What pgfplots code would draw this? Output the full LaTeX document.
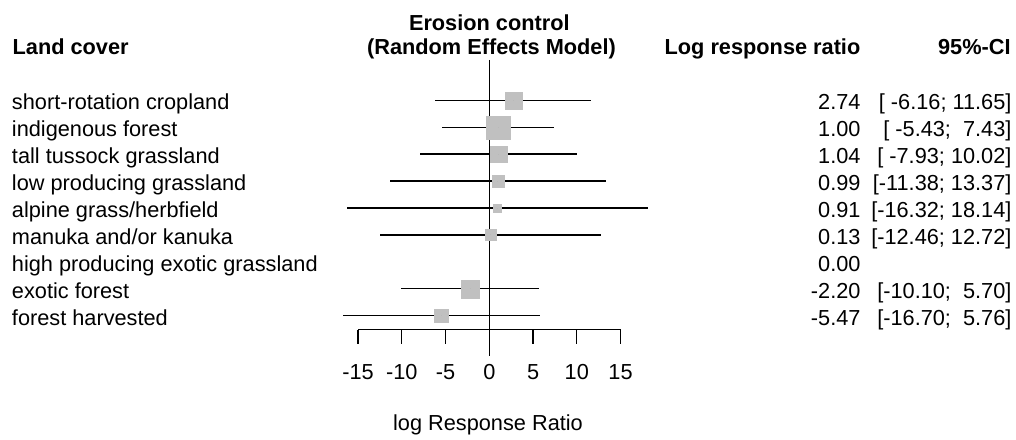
\documentclass[border=0pt]{standalone}
\usepackage{fontspec}
\setmainfont{Liberation Sans}
\usepackage{pgfplots}
\usepackage{pgfplotstable}
\pgfplotsset{compat=1.18}
\definecolor{sqgray}{RGB}{192,192,192}

% row position, estimate, CI lower, CI upper, half side of square (pt)
\pgfplotstableread{
y   est    lo      hi     s
-1  2.74   -6.16   11.65  6.3
-2  1.00   -5.43   7.43   8.7
-3  1.04   -7.93   10.02  6.3
-4  0.99   -11.38  13.37  4.5
-5  0.91   -16.32  18.14  3.0
-6  0.13   -12.46  12.72  4.0
-8  -2.20  -10.10  5.70   6.8
-9  -5.47  -16.70  5.76   5.15
}\ci

\begin{document}
\fontsize{16.3pt}{19.5pt}\selectfont
\begin{tikzpicture}[font=\fontsize{16.3pt}{19.5pt}\selectfont]
\begin{axis}[
  x=6.5625pt, y=20.1975pt,
  xmin=-15, xmax=15, ymin=-9.513, ymax=0.5,
  enlargelimits=false,
  axis x line*=bottom, axis y line=none,
  clip=false,
  xtick={-15,-10,...,15},
  tick align=outside,
  major tick length=10.5pt,
  axis line style={line width=1pt, black},
  major tick style={line width=1pt, black},
  /pgf/number format/assume math mode=true,
  xticklabel style={anchor=base, yshift=-26.8pt, inner sep=0pt},
  xlabel={log Response Ratio},
  xlabel style={at={(axis cs:-0.15,-13.243)}, anchor=base, inner sep=0pt},
]
% reference line
\addplot[black, line width=1pt, forget plot] coordinates {(0,0.498) (0,-10.506)};
% squares
\addplot[scatter, only marks, mark=square*,
  scatter/use mapped color={draw=sqgray, fill=sqgray},
  mark options={line width=0.2pt},
  visualization depends on={\thisrow{s} \as \msz},
  scatter/@pre marker code/.append style={/tikz/mark size=\msz}]
  table[x=est, y=y]{\ci};
% confidence intervals
\addplot[only marks, mark=none, mark size=0pt,
  error bars/.cd, x dir=both, x explicit, error mark=none,
  error bar style={line width=1pt, black}]
  table[x=est, y=y,
        x error plus expr=\thisrow{hi}-\thisrow{est},
        x error minus expr=\thisrow{est}-\thisrow{lo}]{\ci};
% estimate ticks
\addplot[only marks, mark=none, mark size=0pt,
  error bars/.cd, y dir=both, y fixed=0.14, error mark=none,
  error bar style={line width=1.3pt, black, line cap=butt}]
  table[x=est, y=y]{\ci};

% headers
\node[anchor=base west, inner sep=0pt, font=\bfseries] at (axis cs:-54.5,0.69) {Land cover};
\node[anchor=base, inner sep=0pt, font=\bfseries] at (axis cs:0,1.61) {Erosion control};
\node[anchor=base, inner sep=0pt, font=\bfseries] at (axis cs:0.25,0.69) {(Random Effects Model)};
\node[anchor=base east, inner sep=0pt, font=\bfseries] at (axis cs:42.43,0.69) {Log response ratio};
\node[anchor=base east, inner sep=0pt, font=\bfseries] at (axis cs:59.6,0.69) {95\%-CI};

% row labels
\node[anchor=base west, inner sep=0pt] at (axis cs:-54.58,-1.355) {short-rotation cropland};
\node[anchor=base west, inner sep=0pt] at (axis cs:-54.58,-2.355) {indigenous forest};
\node[anchor=base west, inner sep=0pt] at (axis cs:-54.58,-3.355) {tall tussock grassland};
\node[anchor=base west, inner sep=0pt] at (axis cs:-54.58,-4.355) {low producing grassland};
\node[anchor=base west, inner sep=0pt] at (axis cs:-54.58,-5.355) {alpine grass/herbfield};
\node[anchor=base west, inner sep=0pt] at (axis cs:-54.58,-6.355) {manuka and/or kanuka};
\node[anchor=base west, inner sep=0pt] at (axis cs:-54.58,-7.355) {high producing exotic grassland};
\node[anchor=base west, inner sep=0pt] at (axis cs:-54.58,-8.355) {exotic forest};
\node[anchor=base west, inner sep=0pt] at (axis cs:-54.58,-9.355) {forest harvested};

% estimates
\node[anchor=base east, inner sep=0pt] at (axis cs:42.45,-1.355) {2.74};
\node[anchor=base east, inner sep=0pt] at (axis cs:42.45,-2.355) {1.00};
\node[anchor=base east, inner sep=0pt] at (axis cs:42.45,-3.355) {1.04};
\node[anchor=base east, inner sep=0pt] at (axis cs:42.45,-4.355) {0.99};
\node[anchor=base east, inner sep=0pt] at (axis cs:42.45,-5.355) {0.91};
\node[anchor=base east, inner sep=0pt] at (axis cs:42.45,-6.355) {0.13};
\node[anchor=base east, inner sep=0pt] at (axis cs:42.45,-7.355) {0.00};
\node[anchor=base east, inner sep=0pt] at (axis cs:42.45,-8.355) {-2.20};
\node[anchor=base east, inner sep=0pt] at (axis cs:42.45,-9.355) {-5.47};

% confidence intervals text
\node[anchor=base east, inner sep=0pt] at (axis cs:59.7,-1.355) {[ -6.16; 11.65]};
\node[anchor=base east, inner sep=0pt] at (axis cs:59.7,-2.355) {[ -5.43;\ \ 7.43]};
\node[anchor=base east, inner sep=0pt] at (axis cs:59.7,-3.355) {[ -7.93; 10.02]};
\node[anchor=base east, inner sep=0pt] at (axis cs:59.7,-4.355) {[-11.38; 13.37]};
\node[anchor=base east, inner sep=0pt] at (axis cs:59.7,-5.355) {[-16.32; 18.14]};
\node[anchor=base east, inner sep=0pt] at (axis cs:59.7,-6.355) {[-12.46; 12.72]};
\node[anchor=base east, inner sep=0pt] at (axis cs:59.7,-8.355) {[-10.10;\ \ 5.70]};
\node[anchor=base east, inner sep=0pt] at (axis cs:59.7,-9.355) {[-16.70;\ \ 5.76]};

\coordinate (bbl) at (axis cs:-55.92,-13.577);
\coordinate (btr) at (axis cs:60.19,2.7245);
\end{axis}
\pgfresetboundingbox
\path[use as bounding box] (bbl) rectangle (btr);
\end{tikzpicture}
\end{document}
